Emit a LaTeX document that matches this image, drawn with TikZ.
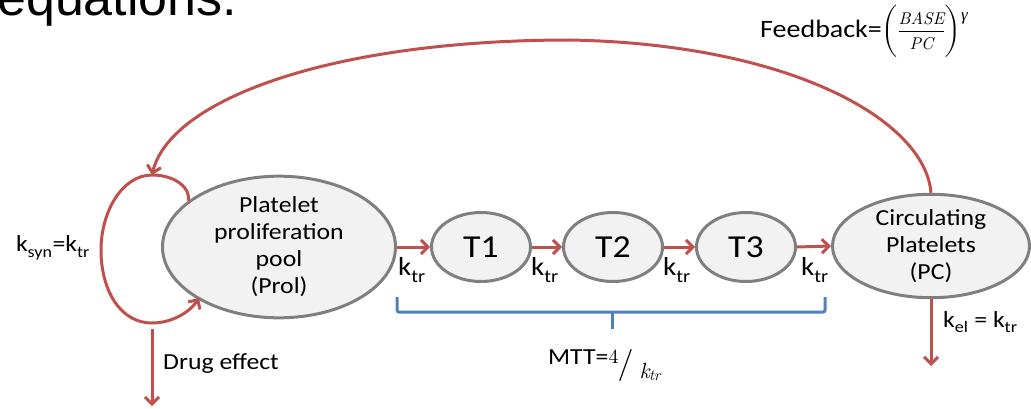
\documentclass[tikz,border=0pt]{standalone}
\usepackage{fontspec}
\usepackage{unicode-math}
\setmainfont{Carlito}[FakeStretch=1.12]
\setmathfont{Latin Modern Math}
\newfontfamily\titlefont{Liberation Sans}
\newfontfamily\lmfont{lmroman10-regular.otf}[ItalicFont=lmroman10-italic.otf]
\newfontfamily\grkfont{Liberation Serif}
\usetikzlibrary{arrows.meta,shapes.geometric}
\definecolor{arrred}{HTML}{C0504D}
\definecolor{ellgray}{HTML}{7F7F7F}
\definecolor{ellfill}{HTML}{F2F2F2}
\definecolor{brblue}{HTML}{4F81BD}
\newcommand{\ktr}{k\textsubscript{tr}}
\newcommand{\bigparen}[1]{$\left#1\vrule height 31pt depth 19pt width 0pt\right.$}
\newcommand{\bigparenR}[1]{$\left.\vrule height 31pt depth 19pt width 0pt\right#1$}
\begin{document}
\begin{tikzpicture}[x=1pt,y=-1pt,
  comp/.style={ellipse, draw=ellgray, line width=3pt, fill=ellfill, inner sep=0pt, align=center},
  flow/.style={draw=arrred, line width=3pt, -{Straight Barb[length=7pt,width=14pt]}},
  lbl/.style={inner sep=0pt, font=\fontsize{23}{27}\selectfont},
  klbl/.style={inner sep=0pt, font=\fontsize{26}{30}\selectfont},
  tnode/.style={comp, minimum width=99pt, minimum height=69pt, font=\fontsize{32}{36}\selectfont},
  bracket/.style={draw=brblue, line width=3pt, rounded corners=2pt}
]
\useasboundingbox (0,0) rectangle (1031,409);
\clip (0,0) rectangle (1031,409);

% title fragment
\node[anchor=base west, inner sep=0pt, font=\titlefont\fontsize{52}{60}\selectfont] (title) at (-3,16) {equations.};

% compartments
\node[comp, minimum width=233pt, minimum height=117pt, font=\fontsize{23}{27}\selectfont] (Prol) at (279,247) {Platelet\\proliferation\\pool\\(Prol)};
\node[tnode] (T1) at (481,247) {T1};
\node[tnode] (T2) at (613,247) {T2};
\node[tnode] (T3) at (746,247) {T3};
\node[comp, minimum width=197pt, minimum height=100pt, font=\fontsize{23}{27}\selectfont] (PC) at (931,246) {Circulating\\Platelets\\(PC)};

% transit arrows
\draw[flow] (Prol.east) -- (T1.west);
\draw[flow] (T1.east) -- (T2.west);
\draw[flow] (T2.east) -- (T3.west);
\draw[flow] (T3.east) -- (PC.west);
\node[klbl] (k1) at (412,270) {\ktr};
\node[klbl] (k2) at (545,270) {\ktr};
\node[klbl] (k3) at (677,270) {\ktr};
\node[klbl] (k4) at (815,270) {\ktr};

% synthesis loop
\coordinate (looptop) at (152,175);
\coordinate (loopend) at (199,298);
\draw[flow] (Prol.153) .. controls (191,188) and (175,175) .. (looptop)
  .. controls (122,175) and (101,212) .. (101,250)
  .. controls (101,290) and (120,323) .. (152,323)
  .. controls (172,323) and (190,312) .. (loopend);
\node[lbl] (ksyn) at (53,248) {k\textsubscript{syn}=k\textsubscript{tr}};

% drug effect
\coordinate (drugtop) at (152,329);
\coordinate (drugend) at (152,406);
\draw[flow] (drugtop) -- (drugend);
\node[lbl, anchor=base west] (drug) at (163,369) {Drug effect};

% elimination
\coordinate (elend) at (931,366);
\draw[flow] (PC.south) -- (elend);
\node[lbl, anchor=base west] (kel) at (943,327) {k\textsubscript{el} = k\textsubscript{tr}};

% feedback
\draw[flow] (PC.north) .. controls (925,120) and (790,44) .. (570,40)
  .. controls (330,40) and (170,100) .. (looptop);
\node[anchor=base west, inner sep=0pt, font=\fontsize{25}{29}\selectfont] (fb) at (760,38) {Feedback=\bigparen(\kern-1pt\raisebox{-12pt}{\vbox{\offinterlineskip\halign{\hfil#\hfil\cr
  {\lmfont\itshape\fontsize{17}{17}\selectfont BASE}\cr
  \noalign{\kern6pt\hrule height 1.2pt\kern6pt}
  {\lmfont\itshape\fontsize{17}{17}\selectfont PC}\cr}}}\kern-1pt\bigparenR)\raisebox{17pt}{\grkfont\itshape\fontsize{17}{17}\selectfont γ}};

% MTT bracket
\draw[bracket] (397,297) -- (397,312) -- (825,312) -- (825,297);
\draw[bracket] (612,312) -- (612,329);
\node[anchor=base west, inner sep=0pt, font=\fontsize{23}{27}\selectfont] (mtt) at (548,364) {MTT=\raisebox{1pt}{\lmfont\fontsize{20}{20}\selectfont 4}\kern-1pt\raisebox{-9pt}{\lmfont\fontsize{32}{32}\selectfont /}\kern6pt\raisebox{-14pt}{\lmfont\itshape\fontsize{22}{22}\selectfont k\kern-0.5pt\raisebox{-2pt}{\fontsize{15}{15}\selectfont tr}}};
\end{tikzpicture}
\end{document}
